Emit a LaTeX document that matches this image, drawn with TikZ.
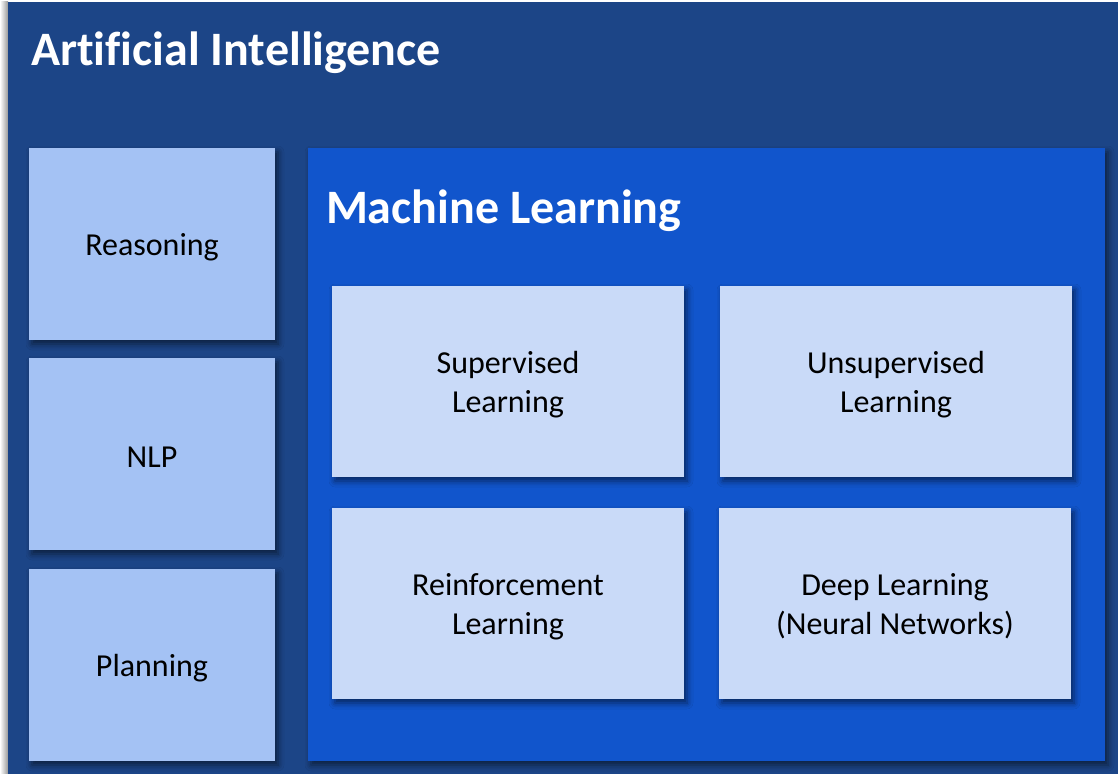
\documentclass[tikz,border=0pt]{standalone}
\usepackage{fontspec}
\setmainfont{Carlito}[Ligatures={NoCommon}]
\usetikzlibrary{shadows.blur}
\definecolor{aiblue}{RGB}{28,69,135}
\definecolor{mlblue}{RGB}{17,85,204}
\definecolor{sidebox}{RGB}{164,194,244}
\definecolor{mlbox}{RGB}{201,218,248}
\begin{document}
\begin{tikzpicture}[x=1pt,y=-1pt,
  base/.style={rectangle,inner sep=0pt,outer sep=0pt,anchor=north west,draw=none},
  shadowed/.style={blur shadow={shadow xshift=3pt,shadow yshift=-4pt,shadow blur radius=6pt,shadow opacity=55}},
  sidestyle/.style={base,shadowed,fill=sidebox,minimum width=246pt,minimum height=192pt},
  mlstyle/.style={base,shadowed,fill=mlbox,minimum width=352pt,minimum height=191pt},
  lbl/.style={inner sep=0pt,outer sep=0pt,anchor=center,yshift=-3pt,
    font=\fontsize{32}{39}\selectfont,text=black,align=center},
  titlestyle/.style={inner sep=0pt,outer sep=0pt,anchor=base west,text=white,
    font=\fontsize{48}{56}\selectfont\bfseries}]
\useasboundingbox (0,0) rectangle (1118,773);
\fill[white] (0,0) rectangle (1118,773);
\shade[left color=white,right color=black!40] (0,2) rectangle (8,773);
\node[base,fill=aiblue,minimum width=1115pt,minimum height=776pt] (ai) at (8,2) {};
\node[titlestyle] (aititle) at (31,66) {Artificial Intelligence};
\node[base,shadowed,fill=mlblue,minimum width=797pt,minimum height=613pt] (ml) at (308,148) {};
\node[titlestyle] (mltitle) at (326,223) {Machine Learning};
\node[sidestyle] (reasoning) at (29,148) {};
\node[sidestyle] (nlp) at (29,358) {};
\node[sidestyle] (planning) at (29,569) {};
\node[mlstyle] (sup) at (332,286) {};
\node[mlstyle] (unsup) at (720,286) {};
\node[mlstyle] (rl) at (332,508) {};
\node[mlstyle] (dl) at (719,508) {};
\node[lbl] (reasoningtxt) at (reasoning.center) {Reasoning};
\node[lbl] (nlptxt) at (nlp.center) {NLP};
\node[lbl] (planningtxt) at (planning.center) {Planning};
\node[lbl] (suptxt) at (sup.center) {Supervised\\Learning};
\node[lbl] (unsuptxt) at (unsup.center) {Unsupervised\\Learning};
\node[lbl] (rltxt) at (rl.center) {Reinforcement\\Learning};
\node[lbl] (dltxt) at (dl.center) {Deep Learning\\(Neural Networks)};
\end{tikzpicture}
\end{document}
